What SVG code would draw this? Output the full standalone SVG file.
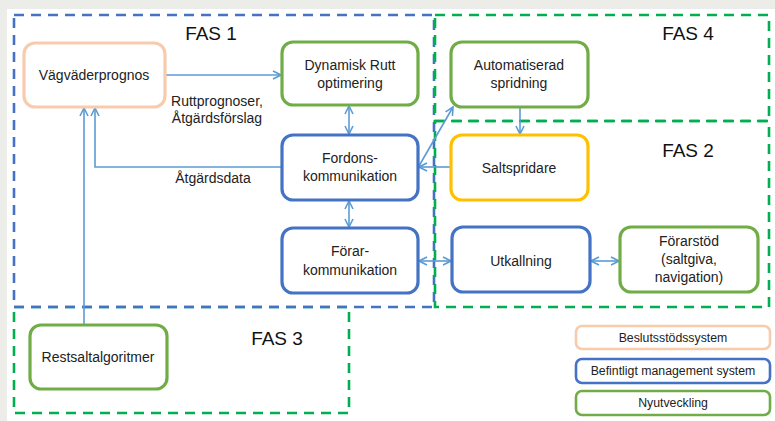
<svg xmlns="http://www.w3.org/2000/svg" width="775" height="421" viewBox="0 0 775 421">
<style>
.node rect{fill:#fff;stroke-width:3.2}
.o rect{stroke:#f8cbad}
.g rect{stroke:#70ad47}
.b rect{stroke:#4472c4}
.y rect{stroke:#ffc000}
text{font-family:"Liberation Sans",Arial,sans-serif;fill:#222;text-anchor:middle}
.t{font-size:14px}
.fas{font-size:19px;fill:#111}
.lg{font-size:12.3px}
.zone{fill:none;stroke-width:2.6;stroke-dasharray:10 7}
.zb{stroke:#4472c4}
.zg{stroke:#00b050}
.c path{fill:none;stroke:#5b9bd5;stroke-width:1.6}
</style>
<defs>
<marker id="ah" viewBox="0 0 10 10" refX="9" refY="5" markerWidth="10" markerHeight="10" markerUnits="userSpaceOnUse" orient="auto-start-reverse">
<path d="M1,1 L9,5 L1,9" fill="none" stroke="#5b9bd5" stroke-width="1.6"/>
</marker>
</defs>
<rect x="0" y="0" width="775" height="421" fill="#ecece8"/>
<rect x="7" y="9" width="768" height="412" fill="#fff"/>
<g id="zones">
<path class="zone zg" d="M14,307 H349 V413 H14 Z"/>
<path class="zone zb" d="M14,15 H434 V307 H14 Z"/>
<path class="zone zg" d="M435,121 H769 V307 H435 Z"/>
<path class="zone zg" d="M435,15 H769 V121 H435 Z"/>
<text class="fas" x="211" y="40">FAS 1</text>
<text class="fas" x="688" y="40">FAS 4</text>
<text class="fas" x="688" y="157">FAS 2</text>
<text class="fas" x="277" y="345">FAS 3</text>
</g>
<g id="connectors" class="c">
<path d="M165,75 H281" marker-end="url(#ah)"/>
<path d="M349,106 V134" marker-start="url(#ah)" marker-end="url(#ah)"/>
<path d="M282,167 H95 V108" marker-end="url(#ah)"/>
<path d="M84,325 V108" marker-end="url(#ah)"/>
<path d="M349,201 V227" marker-start="url(#ah)" marker-end="url(#ah)"/>
<path d="M419,261 H451" marker-start="url(#ah)" marker-end="url(#ah)"/>
<path d="M591,261 H619" marker-start="url(#ah)" marker-end="url(#ah)"/>
<path d="M520,107 V134" marker-end="url(#ah)"/>
<path d="M451,167 H419" marker-end="url(#ah)"/>
<path d="M419,166 L453,107" marker-end="url(#ah)"/>
<text class="t" x="217" y="106">Ruttprognoser,</text>
<text class="t" x="217" y="123">Åtgärdsförslag</text>
<text class="t" x="213" y="183">Åtgärdsdata</text>
</g>
<g id="vagvaderprognos" class="node o"><rect x="24" y="43" width="141" height="64" rx="11"/><text class="t" x="94" y="80">Vägväderprognos</text></g>
<g id="dynamisk" class="node g"><rect x="282" y="42" width="136" height="63" rx="11"/><text class="t" x="350" y="70">Dynamisk Rutt</text><text class="t" x="350" y="88">optimering</text></g>
<g id="fordons" class="node b"><rect x="282" y="135" width="136" height="65" rx="11"/><text class="t" x="350" y="163">Fordons-</text><text class="t" x="350" y="181">kommunikation</text></g>
<g id="forar" class="node b"><rect x="282" y="228" width="136" height="65" rx="11"/><text class="t" x="350" y="256">Förar-</text><text class="t" x="350" y="275">kommunikation</text></g>
<g id="automatiserad" class="node g"><rect x="451" y="42" width="137" height="65" rx="11"/><text class="t" x="519" y="70">Automatiserad</text><text class="t" x="519" y="88">spridning</text></g>
<g id="saltspridare" class="node y"><rect x="451" y="135" width="137" height="65" rx="11"/><text class="t" x="519" y="173">Saltspridare</text></g>
<g id="utkallning" class="node b"><rect x="452" y="227" width="138" height="65" rx="11"/><text class="t" x="521" y="266">Utkallning</text></g>
<g id="forarstod" class="node g"><rect x="620" y="227" width="138" height="65" rx="11"/><text class="t" x="689" y="246">Förarstöd</text><text class="t" x="689" y="264">(saltgiva,</text><text class="t" x="689" y="282">navigation)</text></g>
<g id="restsalt" class="node g"><rect x="30" y="325" width="137" height="64" rx="11"/><text class="t" x="98" y="362">Restsaltalgoritmer</text></g>
<g id="legend">
<g class="node o"><rect x="576" y="326" width="194" height="23" rx="6" style="stroke-width:2.6"/><text class="lg" x="673" y="342">Beslutsstödssystem</text></g>
<g class="node b"><rect x="576" y="359" width="194" height="24" rx="6" style="stroke-width:2.6"/><text class="lg" x="673" y="375">Befintligt management system</text></g>
<g class="node g"><rect x="576" y="391" width="194" height="24" rx="6" style="stroke-width:2.6"/><text class="lg" x="673" y="407">Nyutveckling</text></g>
</g>
</svg>
